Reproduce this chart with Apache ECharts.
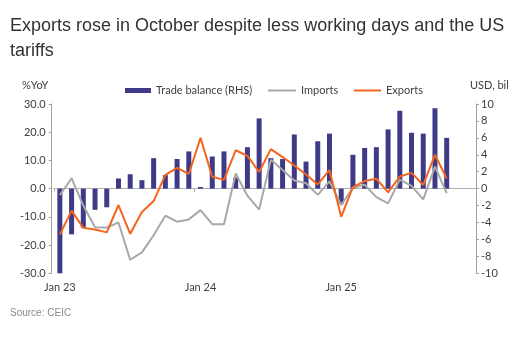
<!DOCTYPE html>
<html>
<head>
<meta charset="utf-8">
<script src="https://cdn.jsdelivr.net/npm/echarts@6/dist/echarts.min.js"></script>
<style>
  html, body { margin: 0; padding: 0; background: #fff; }
  #chart { width: 520px; height: 343px; }
</style>
</head>
<body>
<div id="chart"></div>
<script>
const months = [
  'Jan 23','Feb 23','Mar 23','Apr 23','May 23','Jun 23','Jul 23','Aug 23','Sep 23','Oct 23','Nov 23','Dec 23',
  'Jan 24','Feb 24','Mar 24','Apr 24','May 24','Jun 24','Jul 24','Aug 24','Sep 24','Oct 24','Nov 24','Dec 24',
  'Jan 25','Feb 25','Mar 25','Apr 25','May 25','Jun 25','Jul 25','Aug 25','Sep 25','Oct 25','Nov 25','Dec 25'
];
const tradeBalance = [
  -10.0, -5.4, -4.6, -2.5, -2.2, 1.2, 1.7, 1.0, 3.6, 1.6, 3.5, 4.4,
  0.2, 3.8, 4.4, 1.3, 4.9, 8.3, 3.6, 3.5, 6.4, 3.2, 5.6, 6.5,
  -1.8, 4.0, 4.8, 4.9, 7.0, 9.2, 6.6, 6.5, 9.5, 6.0
];
const imports = [
  -2.3, 3.7, -6.0, -13.7, -13.8, -12.0, -25.2, -22.6, -16.5, -9.6, -11.7, -10.9,
  -7.6, -12.6, -12.6, 5.4, -2.5, -7.4, 10.2, 6.6, 2.9, 1.9, -2.2, 2.6,
  -5.8, 0.3, 1.4, -3.0, -5.2, 3.2, 1.0, -3.8, 7.8, -1.6
];
const exportsYoY = [
  -16.3, -7.8, -13.9, -14.5, -15.5, -5.8, -16.0, -8.3, -4.4, 4.9, 7.4, 5.2,
  18.0, 4.2, 3.1, 13.6, 11.6, 5.9, 14.0, 11.2, 8.2, 5.0, 1.5, 6.6,
  -10.0, 0.5, 2.7, 3.5, -1.3, 4.3, 5.6, 1.3, 12.0, 3.6
];
const leftTicks = { min: -30, max: 30, step: 10 };
const rightTicks = { min: -10, max: 10, step: 2 };

const labelFont = 'Lato, "Open Sans", sans-serif';
const labelColor = '#404040';
const axisGrey = '#a0a0a0';

const chart = echarts.init(document.getElementById('chart'), null, { renderer: 'canvas' });
chart.setOption({
  animation: false,
  backgroundColor: '#ffffff',
  graphic: [
    { type: 'text', left: 10, top: 14, style: {
        text: 'Exports rose in October despite less working days and the US\ntariffs',
        font: '18px "Liberation Sans", Arial, sans-serif', fill: '#333333', lineHeight: 25 } },
    { type: 'text', left: 10, top: 308, style: {
        text: 'Source: CEIC', font: '10px "Liberation Sans", Arial, sans-serif', fill: '#8a8a8a' } },
    { type: 'text', left: 22, top: 80, style: {
        text: '%YoY', font: '11px ' + labelFont, fill: labelColor } },
    { type: 'text', left: 470, top: 80, style: {
        text: 'USD, bil', font: '11px ' + labelFont, fill: labelColor } }
  ],
  legend: [
    { data: ['Trade balance (RHS)'], left: 120, top: 80, icon: 'rect', itemWidth: 26, itemHeight: 5,
      itemGap: 5, textStyle: { fontFamily: labelFont, fontSize: 11, color: labelColor, padding: [0,0,0,0] } },
    { data: ['Imports'], left: 263, top: 80, icon: 'rect', itemWidth: 28, itemHeight: 2,
      textStyle: { fontFamily: labelFont, fontSize: 11, color: labelColor } },
    { data: ['Exports'], left: 349, top: 80, icon: 'rect', itemWidth: 27, itemHeight: 2,
      textStyle: { fontFamily: labelFont, fontSize: 11, color: labelColor } }
  ],
  grid: { left: 54, right: 44, top: 104, bottom: 69.7, containLabel: false },
  xAxis: [
    { type: 'category', data: months, position: 'bottom', boundaryGap: true,
      axisLine: { show: false, onZero: false }, axisTick: { show: false },
      axisLabel: { interval: (i) => i % 12 === 0, fontFamily: labelFont, fontSize: 11, color: labelColor, margin: 9 } },
    { type: 'category', data: months, position: 'bottom', boundaryGap: true,
      axisLine: { show: true, onZero: true, onZeroAxisIndex: 0, lineStyle: { color: '#b0b0b0', width: 1 } },
      axisTick: { show: true, interval: (i) => i % 12 === 0, length: 3, lineStyle: { color: '#b0b0b0' } },
      axisLabel: { show: false } }
  ],
  yAxis: [
    { type: 'value', min: leftTicks.min, max: leftTicks.max, interval: leftTicks.step, position: 'left', offset: 2.3,
      axisLine: { show: true, lineStyle: { color: axisGrey } },
      axisTick: { show: true, length: 3, lineStyle: { color: axisGrey } },
      splitLine: { show: false },
      axisLabel: { formatter: (v) => v.toFixed(1), fontFamily: labelFont, fontSize: 11, color: labelColor, margin: 6 } },
    { type: 'value', min: rightTicks.min, max: rightTicks.max, interval: rightTicks.step, position: 'right',
      axisLine: { show: true, lineStyle: { color: axisGrey } },
      axisTick: { show: true, length: 3, lineStyle: { color: axisGrey } },
      splitLine: { show: false },
      axisLabel: { fontFamily: labelFont, fontSize: 11, color: labelColor, margin: 5 } }
  ],
  series: [
    { name: 'Trade balance (RHS)', type: 'bar', xAxisIndex: 0, yAxisIndex: 1, data: tradeBalance,
      barWidth: 5, itemStyle: { color: '#3e3a87' } },
    { name: 'Imports', type: 'line', xAxisIndex: 0, yAxisIndex: 0, data: imports,
      symbol: 'none', lineStyle: { color: '#a8a8a8', width: 2 }, itemStyle: { color: '#a8a8a8' } },
    { name: 'Exports', type: 'line', xAxisIndex: 0, yAxisIndex: 0, data: exportsYoY,
      symbol: 'none', lineStyle: { color: '#f4641e', width: 2 }, itemStyle: { color: '#f4641e' } }
  ]
});
</script>
</body>
</html>
